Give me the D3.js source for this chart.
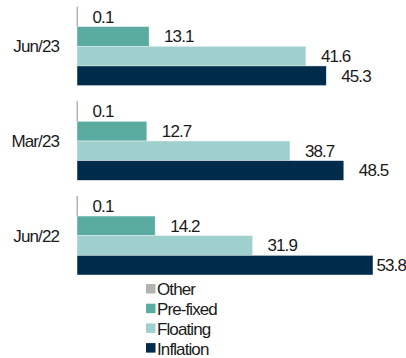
<!DOCTYPE html>
<html>
<head>
<meta charset="utf-8">
<script src="https://cdn.jsdelivr.net/npm/d3@7"></script>
<style>
  body { margin: 0; background: #fff; }
  text { font-family: "Liberation Sans", Arial, sans-serif; font-size: 17px; letter-spacing: -0.9px; fill: #1a1a1a; }
</style>
</head>
<body>
<div id="chart"></div>
<script>
// periods, top to bottom
let periods = ["Jun/23", "Mar/23", "Jun/22"];
// series in bar order inside each group
let seriesNames = ["Other", "Pre-fixed", "Floating", "Inflation"];
let colors = ["#b3b3b3", "#5aaba0", "#a0d0cd", "#002b4b"];
// values per series, same order as periods
let other = [0.1, 0.1, 0.1];
let preFixed = [13.1, 12.7, 14.2];
let floating = [41.6, 38.7, 31.9];
let inflation = [45.3, 48.5, 53.8];

function draw(id) {
    let width = 406, height = 358;
    let seriesValues = [other, preFixed, floating, inflation];

    let svg = d3.select(id).append("svg")
        .attr("width", width)
        .attr("height", height);

    // x scale: zero at the axis
    let x = d3.scaleLinear().domain([0, 53.8]).range([77, 373]);

    // groups per period
    let y0 = d3.scaleBand().domain(periods).range([7, 275]).paddingInner(0.17).paddingOuter(0);
    let y1 = d3.scaleBand().domain(seriesNames).range([0, y0.bandwidth()]);

    let rows = [];
    periods.forEach((p, i) => {
        seriesNames.forEach((s, j) => {
            rows.push({ period: p, series: s, value: seriesValues[j][i], color: colors[j] });
        });
    });

    svg.selectAll("rect.bar")
        .data(rows).enter()
        .append("rect")
        .attr("class", "bar")
        .attr("x", x(0))
        .attr("y", d => y0(d.period) + y1(d.series))
        .attr("width", d => x(d.value) - x(0))
        .attr("height", y1.bandwidth())
        .style("fill", d => d.color)
        .style("stroke", d => d.series == "Other" ? d.color : "#e8eef2")
        .style("stroke-width", d => d.series == "Other" ? 1 : 0.5);

    // value labels, pushed in if they run past the edge
    svg.selectAll("text.val")
        .data(rows).enter()
        .append("text")
        .attr("class", "val")
        .attr("x", d => x(d.value) + 15)
        .attr("y", d => y0(d.period) + y1(d.series) + y1.bandwidth() / 2)
        .attr("dy", "0.35em")
        .text(d => d.value.toFixed(1))
        .each(function (d) {
            let w = this.getComputedTextLength();
            let xx = x(d.value) + 15;
            if (xx + w > width) d3.select(this).attr("x", width - w);
        });

    // period labels
    svg.selectAll("text.cat")
        .data(periods).enter()
        .append("text")
        .attr("class", "cat")
        .attr("x", 59)
        .attr("y", d => y0(d) + y0.bandwidth() / 2)
        .attr("dy", "0.35em")
        .attr("text-anchor", "end")
        .text(d => d);

    // legend
    let legend = svg.selectAll("g.leg")
        .data(seriesNames).enter()
        .append("g")
        .attr("class", "leg")
        .attr("transform", (d, i) => "translate(146," + (284 + i * 19.7) + ")");
    legend.append("rect")
        .attr("width", 9.5)
        .attr("height", 9.5)
        .style("fill", (d, i) => colors[i]);
    legend.append("text")
        .attr("x", 11)
        .attr("y", 5.5)
        .attr("dy", "0.35em")
        .text(d => d);
}

draw("#chart");
</script>
</body>
</html>
